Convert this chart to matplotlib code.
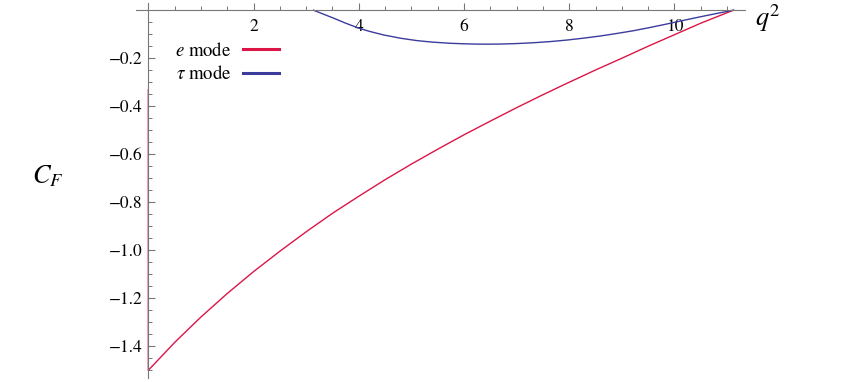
import matplotlib
matplotlib.use("Agg")
import matplotlib.pyplot as plt
from matplotlib.ticker import MultipleLocator, FixedLocator, FuncFormatter

plt.rcParams['font.family'] = ['STIXGeneral', 'DejaVu Serif']
plt.rcParams['mathtext.fontset'] = 'stix'

# e mode
q2_e = [0.0, 0.0, 0.5, 1.0, 1.5, 2.0, 2.5, 3.0, 3.5, 4.0, 4.5, 5.0, 5.5, 6.0,
        6.5, 7.0, 7.5, 8.0, 8.5, 9.0, 9.5, 10.0, 10.5, 11.12]
cf_e = [-0.332, -1.500, -1.384, -1.278, -1.180, -1.089, -1.004, -0.923, -0.846,
        -0.775, -0.706, -0.641, -0.579, -0.519, -0.462, -0.406, -0.352, -0.300,
        -0.249, -0.200, -0.150, -0.102, -0.054, 0.0]

# tau mode
q2_t = [3.14, 3.30, 3.52, 3.75, 3.99, 4.20, 4.47, 4.80, 5.10, 5.40, 5.74, 6.00,
        6.24, 6.45, 6.69, 7.00, 7.32, 7.65, 7.95, 8.27, 8.59, 8.90, 9.22, 9.54,
        9.86, 10.17, 10.49, 10.80, 11.12]
cf_t = [0.0, -0.014, -0.033, -0.054, -0.074, -0.088, -0.103, -0.117, -0.1265,
        -0.133, -0.1378, -0.1400, -0.1412, -0.1415, -0.1410, -0.1390, -0.1355,
        -0.1305, -0.1245, -0.1165, -0.1075, -0.0970, -0.0855, -0.0718, -0.0572,
        -0.0424, -0.0275, -0.0137, 0.0]

x_major = [2, 4, 6, 8, 10]
y_major = [-0.2, -0.4, -0.6, -0.8, -1.0, -1.2, -1.4]

W, H = 852, 382
fig = plt.figure(figsize=(W / 100, H / 100), dpi=100)
ax = fig.add_axes([136 / W, 1 - 378 / H, (745 - 136) / W, (378 - 3) / H])
ax.set_xlim(-0.234, 11.34)
ax.set_ylim(-1.532, 0.03)

red = '#DC1547'
blue = '#3C3C9C'
ax.plot(q2_e, cf_e, color=red, lw=1.0, label=r'$e$ mode', solid_joinstyle='round')
ax.plot(q2_t, cf_t, color=blue, lw=1.0, label=r'$\tau$ mode', solid_joinstyle='round')

axc = '#777777'
for s in ['top', 'right']:
    ax.spines[s].set_visible(False)
ax.spines['left'].set_position(('data', 0))
ax.spines['bottom'].set_position(('data', 0))
for s in ['left', 'bottom']:
    ax.spines[s].set_color(axc)
    ax.spines[s].set_linewidth(0.8)

ax.xaxis.set_major_locator(FixedLocator(x_major))
ax.xaxis.set_minor_locator(MultipleLocator(0.5))
ax.yaxis.set_major_locator(FixedLocator(y_major))
ax.yaxis.set_minor_locator(MultipleLocator(0.05))
ax.yaxis.set_major_formatter(FuncFormatter(lambda v, p: ('%.1f' % v).replace('-', '\u2212')))
ax.xaxis.set_major_formatter(FuncFormatter(lambda v, p: '%d' % v))

ax.tick_params(axis='x', which='major', direction='in', length=5, width=0.8,
               color=axc, labelsize=12.5, pad=6)
ax.tick_params(axis='x', which='minor', direction='in', length=3, width=0.7, color=axc)
ax.tick_params(axis='y', which='major', direction='in', length=5, width=0.8,
               color=axc, labelsize=12.5, pad=4)
ax.tick_params(axis='y', which='minor', direction='in', length=3, width=0.7, color=axc)

fig.text(755 / W, 1 - 26 / H, r'$q^2$', fontsize=19, ha='left', va='baseline')
fig.text(32 / W, 1 - 183 / H, r'$C_F$', fontsize=19, ha='left', va='baseline')

leg = ax.legend(loc='upper left', bbox_to_anchor=(175 / W, 1 - 42 / H),
                bbox_transform=fig.transFigure, frameon=False, markerfirst=False,
                fontsize=13.5, handlelength=1.9, handletextpad=0.64,
                labelspacing=0.28, borderpad=0, borderaxespad=0)
for line in leg.get_lines():
    line.set_linewidth(2.2)
for t in leg.get_texts():
    t.set_ha('right')

fig.savefig('out.png', dpi=100)
